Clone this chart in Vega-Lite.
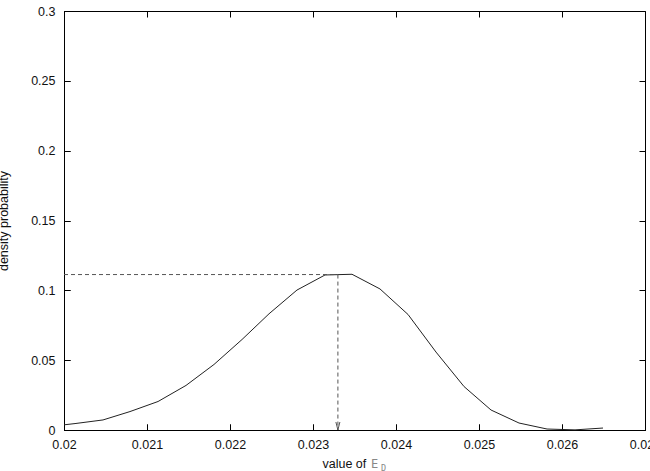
{
  "$schema": "https://vega.github.io/schema/vega-lite/v6.json",
  "width": 581,
  "height": 419,
  "autosize": {"type": "none"},
  "padding": {"left": 64, "top": 11, "right": 5, "bottom": 41},
  "background": "white",
  "config": {
    "view": {"stroke": "black", "strokeWidth": 1},
    "font": "Liberation Sans",
    "axis": {
      "grid": false,
      "labelFont": "Liberation Sans",
      "labelFontSize": 12.5,
      "labelColor": "#111",
      "tickColor": "black",
      "tickWidth": 1,
      "domainColor": "black",
      "tickSize": 6,
      "titleFont": "Liberation Sans",
      "titleFontSize": 12.5,
      "titleFontWeight": "normal",
      "titleColor": "#111"
    }
  },
  "datasets": {
    "curve": [
      {"x": 0.02, "density": 0.0037},
      {"x": 0.020133, "density": 0.0046},
      {"x": 0.02047, "density": 0.0072},
      {"x": 0.020795, "density": 0.0132},
      {"x": 0.021133, "density": 0.0204},
      {"x": 0.02147, "density": 0.0319},
      {"x": 0.021807, "density": 0.0469},
      {"x": 0.022145, "density": 0.0648},
      {"x": 0.02247, "density": 0.0832},
      {"x": 0.022807, "density": 0.1002},
      {"x": 0.023145, "density": 0.111},
      {"x": 0.02347, "density": 0.1115},
      {"x": 0.023807, "density": 0.101},
      {"x": 0.024145, "density": 0.0827},
      {"x": 0.024482, "density": 0.0558},
      {"x": 0.02482, "density": 0.0311},
      {"x": 0.025145, "density": 0.0143},
      {"x": 0.025482, "density": 0.005},
      {"x": 0.02582, "density": 0.0007},
      {"x": 0.026157, "density": 0.0001},
      {"x": 0.026494, "density": 0.0014}
    ],
    "peak": [
      {"x0": 0.02, "mode": 0.0233, "density": 0.1113}
    ]
  },
  "resolve": {"axis": {"x": "independent", "y": "independent"}},
  "layer": [
    {
      "data": {"name": "curve"},
      "mark": {"type": "line", "color": "#222", "strokeWidth": 1},
      "encoding": {
        "x": {
          "field": "x", "type": "quantitative",
          "scale": {"domain": [0.02, 0.027], "nice": false, "zero": false},
          "axis": {
            "orient": "bottom",
            "values": [0.02, 0.021, 0.022, 0.023, 0.024, 0.025, 0.026, 0.027],
            "format": "~g",
            "tickSize": -6,
            "labelPadding": 14,
            "labelFlush": false,
            "labelOverlap": false,
            "title": "value of",
            "titleAlign": "left",
            "titleAnchor": null,
            "titleX": 258,
            "titleY": 37.5,
            "titleBaseline": "alphabetic"
          }
        },
        "y": {
          "field": "density", "type": "quantitative",
          "scale": {"domain": [0, 0.3], "nice": false, "zero": false},
          "axis": {
            "orient": "left",
            "values": [0, 0.05, 0.1, 0.15, 0.2, 0.25, 0.3],
            "format": "~g",
            "tickSize": -6,
            "labelPadding": 15,
            "labelFlush": false,
            "labelOverlap": false,
            "title": "density probability",
            "titleX": -56.5,
            "titleBaseline": "alphabetic"
          }
        }
      }
    },
    {
      "data": {"name": "peak"},
      "mark": {"type": "rule", "color": "#555", "strokeWidth": 1, "strokeDash": [4, 3]},
      "encoding": {
        "x": {
          "field": "x0", "type": "quantitative",
          "axis": {
            "orient": "top",
            "offset": -419,
            "tickCount": 7,
            "labels": false,
            "title": null
          }
        },
        "x2": {"field": "mode"},
        "y": {
          "field": "density", "type": "quantitative",
          "axis": {
            "orient": "right",
            "offset": -581,
            "tickCount": 6,
            "labels": false,
            "title": null
          }
        }
      }
    },
    {
      "data": {"name": "peak"},
      "mark": {"type": "rule", "color": "#555", "strokeWidth": 1, "strokeDash": [4, 3]},
      "encoding": {
        "x": {
          "field": "mode", "type": "quantitative",
          "axis": {
            "orient": "bottom",
            "offset": -419,
            "domain": false,
            "values": [0.02, 0.021, 0.022, 0.023, 0.024, 0.025, 0.026, 0.027],
            "labels": false,
            "title": null
          }
        },
        "y": {
          "field": "density", "type": "quantitative",
          "axis": {
            "orient": "left",
            "offset": -581,
            "domain": false,
            "values": [0, 0.05, 0.1, 0.15, 0.2, 0.25, 0.3],
            "labels": false,
            "title": null
          }
        },
        "y2": {"datum": 0}
      }
    },
    {
      "data": {"name": "peak"},
      "mark": {"type": "point", "shape": "M-1,-4L0,0L1,-4", "size": 16, "filled": false, "stroke": "#555", "strokeWidth": 1, "opacity": 1},
      "encoding": {
        "x": {"field": "mode", "type": "quantitative", "axis": null},
        "y": {"datum": 0, "type": "quantitative", "axis": null}
      }
    },
    {
      "data": {"name": "peak"},
      "mark": {"type": "text", "text": "E", "font": "DejaVu Sans Mono", "fontSize": 12, "color": "#888", "align": "left", "baseline": "alphabetic", "clip": false},
      "encoding": {
        "x": {"datum": 0.023699, "type": "quantitative", "axis": null},
        "y": {"datum": -0.02685, "type": "quantitative", "axis": null}
      }
    },
    {
      "data": {"name": "peak"},
      "mark": {"type": "text", "text": "D", "font": "DejaVu Sans Mono", "fontSize": 8.5, "color": "#888", "align": "left", "baseline": "alphabetic", "clip": false},
      "encoding": {
        "x": {"datum": 0.023819, "type": "quantitative", "axis": null},
        "y": {"datum": -0.029, "type": "quantitative", "axis": null}
      }
    }
  ]
}
